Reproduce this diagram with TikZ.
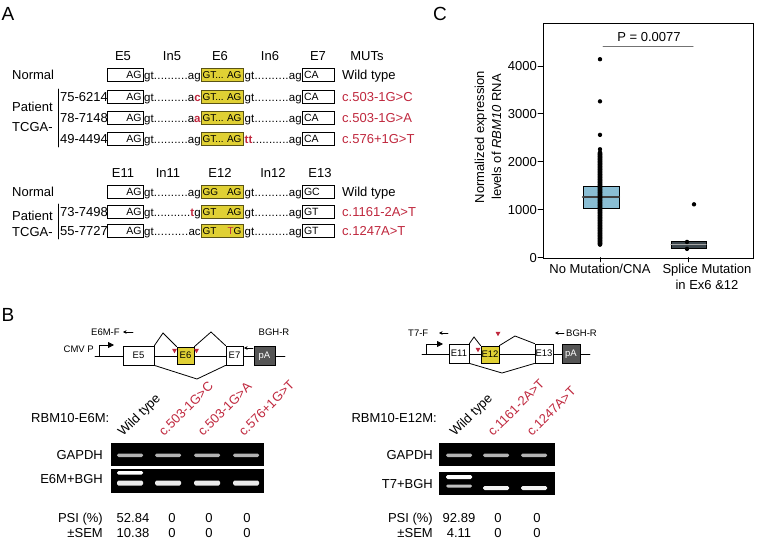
\documentclass[tikz,border=0pt]{standalone}
\usepackage{fontspec}
\setmainfont{Liberation Sans}
\usepackage{xcolor}
\usepackage{tikz}
\usetikzlibrary{arrows.meta}

\definecolor{mutred}{RGB}{192,40,62}
\definecolor{exyel}{RGB}{224,208,52}
\definecolor{boxblue}{RGB}{138,190,212}
\definecolor{boxdark}{RGB}{60,70,76}
\definecolor{pagray}{RGB}{85,85,85}
\newcommand\fsz[1]{\fontsize{#1}{#1}\selectfont}
\newcommand\mt[1]{\textcolor{mutred}{\textbf{#1}}}
\newcommand\dts{\xleaders\hbox{.}\hfill}
\newcommand\tdd{.\kern0pt.\kern0pt.}

\begin{document}
\begin{tikzpicture}[x=1pt,y=-1pt,line cap=round,
	lb/.style={font=\fsz{13},inner sep=0pt,text height=9.3pt,text depth=0pt},
	sm/.style={font=\fsz{10.5},inner sep=0pt,text height=7.5pt,text depth=0pt},
	jn/.style={font=\fsz{11.5},inner sep=0pt,text height=8.2pt,text depth=0pt,anchor=west},
	tn/.style={font=\fsz{9.5},inner sep=0pt,text height=6.8pt,text depth=0pt},
	big/.style={font=\fsz{19},inner sep=0pt},
	abox/.style={sm,draw,line width=0.7pt,minimum height=13pt,fill=white},
	ybox/.style={abox,font=\fsz{10},fill=exyel,draw=black!60!exyel},
	exon/.style={tn,draw,line width=0.8pt,fill=white,minimum height=19pt},
	lane/.style={font=\fsz{13},inner sep=0pt,rotate=45,anchor=base west},
	primer/.style={line width=0.8pt,-{Stealth[length=3.5pt,width=3.5pt]}},
	band/.style={fill=#1,rounded corners=1.5pt}]
	\fill[white] (0,0) rectangle (761,548);
	\useasboundingbox (0,0) rectangle (761,548);

	% A
	\node[big] (pA) at (8,14) {A};
	\foreach \x/\t in {123/E5,172/In5,220/E6,270/In6,318/E7,367/MUTs}
		\node[lb] (h\t) at (\x,56) {\t};
	\foreach \x/\t in {123/E11,168/In11,220/E12,273/In12,320/E13}
		\node[lb] (h\t) at (\x,173) {\t};
	\node[lb,anchor=west] (nor1) at (12,75) {Normal};
	\node[lb,anchor=west] (pat1) at (12,107) {Patient};
	\node[lb,anchor=west] (tcg1) at (12,127) {TCGA-};
	\node[lb,anchor=west] (nor2) at (12,192) {Normal};
	\node[lb,anchor=west] (pat2) at (12,216) {Patient};
	\node[lb,anchor=west] (tcg2) at (12,232) {TCGA-};
	\draw[line width=0.7pt] (58,89) -- (58,147);
	\draw[line width=0.7pt] (58,204) -- (58,239);
	\foreach \y/\id/\la/\ex/\rs/\ca/\mu/\mc in {
		75//ag/GT\tdd\hfil AG/gt/CA/Wild type/black,
		97/75-6214/a\mt{c}/GT\tdd\hfil AG/gt/CA/c.503-1G>C/mutred,
		118/78-7148/a\mt{a}/GT\tdd\hfil AG/gt/CA/c.503-1G>A/mutred,
		139/49-4494/ag/GT\tdd\hfil AG/\mt{tt}/CA/c.576+1G>T/mutred,
		192//ag/GG\hfil AG/gt/GC/Wild type/black,
		212/73-7498/\mt{t}g/GT\hfil AG/gt/GT/c.1161-2A>T/mutred,
		231/55-7727/ac/GT\hfil \textcolor{mutred}{T}G/gt/GT/c.1247A>T/mutred}{
		\node[lb,anchor=west] (id\y) at (60,\y) {\id};
		\node[abox,minimum width=36pt] (l\y) at (125,\y) {\hbox to 33pt{\hfil AG}};
		\node[jn] (jl\y) at (144,\y) {\hbox to 56.5pt{gt\dts\la}};
		\node[ybox,minimum width=42pt] (m\y) at (222,\y) {\hbox to 39pt{\ex}};
		\node[jn] (jr\y) at (244.5,\y) {\hbox to 57pt{\rs\dts ag}};
		\node[abox,minimum width=32pt] (r\y) at (318,\y) {\hbox to 28pt{\ca\hfil}};
		\node[lb,anchor=west,text=\mc] (mu\y) at (342,\y) {\mu};
	}

	% C
	\node[big] (pC) at (440,14) {C};
	\draw[line width=0.8pt] (543,23) rectangle (753,258);
	\node[lb] (pv) at (649,37) {P = 0.0077};
	\coordinate (pv0) at (603,47);
	\coordinate (pv1) at (693,47);
	\draw[line width=1pt,black!55] (pv0) -- (pv1);
	\node[font=\fontsize{13}{17}\selectfont,inner sep=0pt,align=center,rotate=90] (yl) at (488,137)
		{Normalized expression\\levels of \textit{RBM10} RNA};
	\node[lb] (xl1) at (600,269) {No Mutation/CNA};
	\node[lb] (xl2) at (707,269) {Splice Mutation};
	\node[lb] (xl3) at (707,285) {in Ex6 \&12};
	\begin{scope}[shift={(0,257.5)},y=0.0479pt]
		\foreach \v in {0,1000,...,4000}{
			\draw[line width=0.8pt] (538,\v) -- (543,\v);
			\node[lb,anchor=east] (yt\v) at (537,\v) {\v};
		}
		\foreach \x in {600,688} \draw[line width=0.8pt] (\x,0) -- (\x,-90);
		\draw[fill=boxblue,line width=0.8pt] (583,1030) rectangle (619,1480);
		\draw[line width=2.2pt,black!75] (583,1260) -- (619,1260);
		\foreach \v in {270,285,...,2190} \fill (600,\v) circle (2.3pt);
		\foreach \v in {2260,2560,3260,4140} \fill (600,\v) circle (2.2pt);
		\draw[fill=boxdark,line width=0.8pt] (671,180) rectangle (706,330);
		\draw[line width=1.4pt,black!35] (671,270) -- (706,270);
		\foreach \x/\v in {687/325,687/180,694/1110} \fill (\x,\v) circle (2.2pt);
	\end{scope}

	% B
	\node[big] (pB) at (8,315) {B};
	\coordinate (b0) at (95,356);
	\coordinate (b1) at (285,356);
	\draw[line width=0.8pt] (b0) -- (b1);
	\coordinate (pr0) at (99,356);
	\draw[line width=0.8pt,-{Triangle[length=6pt,width=6pt]}] (pr0) -- (99,345) -- (114,345);
	\node[tn,anchor=east] (cmv) at (94,349) {CMV P};
	\node[exon,minimum width=31pt] (e5) at (138.5,355.5) {E5};
	\node[exon,fill=exyel,minimum width=17pt,minimum height=17pt] (e6) at (185.5,355.5) {E6};
	\node[exon,minimum width=17pt] (e7) at (234.5,355.5) {E7};
	\node[exon,fill=pagray,text=white,minimum width=21pt] (pa1) at (264.5,355.5) {pA};
	\coordinate (k1) at (163,333);
	\coordinate (k2) at (211,332);
	\coordinate (k3) at (197,379);
	\draw[line width=0.8pt] (e5.north east) -- (k1) -- (e6.north west);
	\draw[line width=0.8pt] (e6.north east) -- (k2) -- (e7.north west);
	\draw[line width=0.8pt] (e5.south east) -- (k3) -- (e7.south west);
	\foreach \p in {(174.5,351),(196.5,351)}
		\fill[mutred] \p ++(-2.5,-2.2) -- ++(5,0) -- ++(-2.5,4.4) -- cycle;
	\node[tn,anchor=west] (f1) at (91,332) {E6M-F};
	\coordinate (fa1) at (133,332);
	\coordinate (fb1) at (123,332);
	\draw[primer] (fa1) -- (fb1);
	\node[tn] (r1) at (274,332) {BGH-R};
	\coordinate (ra1) at (253,348);
	\coordinate (rb1) at (244,348);
	\draw[primer] (ra1) -- (rb1);

	\coordinate (b2) at (422,354);
	\coordinate (b3) at (590,354);
	\draw[line width=0.8pt] (b2) -- (b3);
	\coordinate (pr1) at (426,354);
	\draw[line width=0.8pt,-{Triangle[length=6pt,width=6pt]}] (pr1) -- (426,344) -- (443,344);
	\node[exon,minimum width=20pt] (e11) at (459,353.5) {E11};
	\node[exon,fill=exyel,minimum width=18pt,minimum height=17pt] (e12) at (490,354.5) {E12};
	\node[exon,minimum width=18pt] (e13) at (544,353.5) {E13};
	\node[exon,fill=pagray,text=white,minimum width=18pt] (pa2) at (571,353.5) {pA};
	\coordinate (k4) at (474,337);
	\coordinate (k5) at (515,336);
	\coordinate (k6) at (502,373);
	\draw[line width=0.8pt] (e11.north east) -- (k4) -- (e12.north west);
	\draw[line width=0.8pt] (e12.north east) -- (k5) -- (e13.north west);
	\draw[line width=0.8pt] (e11.south east) -- (k6) -- (e13.south west);
	\foreach \p in {(478,350),(498,334)}
		\fill[mutred] \p ++(-2.5,-2.2) -- ++(5,0) -- ++(-2.5,4.4) -- cycle;
	\node[tn,anchor=west] (f2) at (408,333) {T7-F};
	\coordinate (fa2) at (448,333);
	\coordinate (fb2) at (439,333);
	\draw[primer] (fa2) -- (fb2);
	\node[tn,anchor=west] (r2) at (566,333) {BGH-R};
	\coordinate (ra2) at (564,333);
	\coordinate (rb2) at (555,333);
	\draw[primer] (ra2) -- (rb2);

	% gels
	\node[lb,anchor=west] (cn1) at (31,418) {RBM10-E6M:};
	\foreach \x/\t/\c in {123/Wild type/black,164/c.503-1G>C/mutred,203/c.503-1G>A/mutred,244/c.576+1G>T/mutred}
		\node[lane,text=\c] (ln\x) at (\x,437) {\t};
	\fill (111,443) rectangle (264,466);
	\fill (111,469) rectangle (264,493);
	\foreach \x in {130,168,207,246} {
		\fill[band=black!30!white] ({\x-13},453.5) rectangle ({\x+13},457);
		\fill[band=black!8!white] ({\x-13},480.5) rectangle ({\x+13},485.5);
	}
	\fill[band=white] (117,471) rectangle (143,474.5);
	\node[lb,anchor=east] (g1) at (103,455) {GAPDH};
	\node[lb,anchor=east] (q1) at (103,479) {E6M+BGH};
	\node[lb,anchor=east] (ps1) at (103,518) {PSI (\%)};
	\node[lb,anchor=east] (se1) at (103,533) {±SEM};
	\foreach \x/\a/\b in {133/52.84/10.38,172/0/0,209/0/0,247/0/0} {
		\node[lb] (va\x) at (\x,518) {\a};
		\node[lb] (vb\x) at (\x,533) {\b};
	}

	\node[lb,anchor=east] (cn2) at (437,418) {RBM10-E12M:};
	\foreach \x/\t/\c in {455/Wild type/black,493/c.1161-2A>T/mutred,532/c.1247A>T/mutred}
		\node[lane,text=\c] (ln\x) at (\x,437) {\t};
	\fill (439,443) rectangle (555,466);
	\fill (439,472) rectangle (555,495);
	\foreach \x in {459,496,534} {
		\fill[band=black!30!white] ({\x-13},453.5) rectangle ({\x+13},457);
	}
	\fill[band=white] (446,475) rectangle (472,479);
	\fill[band=black!25!white] (446,484.5) rectangle (472,487.5);
	\foreach \x in {496,534}
		\fill[band=black!5!white] ({\x-13},486) rectangle ({\x+13},490);
	\node[lb,anchor=east] (g2) at (433,455) {GAPDH};
	\node[lb,anchor=east] (q2) at (433,484) {T7+BGH};
	\node[lb,anchor=east] (ps2) at (433,518) {PSI (\%)};
	\node[lb,anchor=east] (se2) at (433,533) {±SEM};
	\foreach \x/\a/\b in {459/92.89/4.11,498/0/0,537/0/0} {
		\node[lb] (va\x) at (\x,518) {\a};
		\node[lb] (vb\x) at (\x,533) {\b};
	}
\end{tikzpicture}
\end{document}
